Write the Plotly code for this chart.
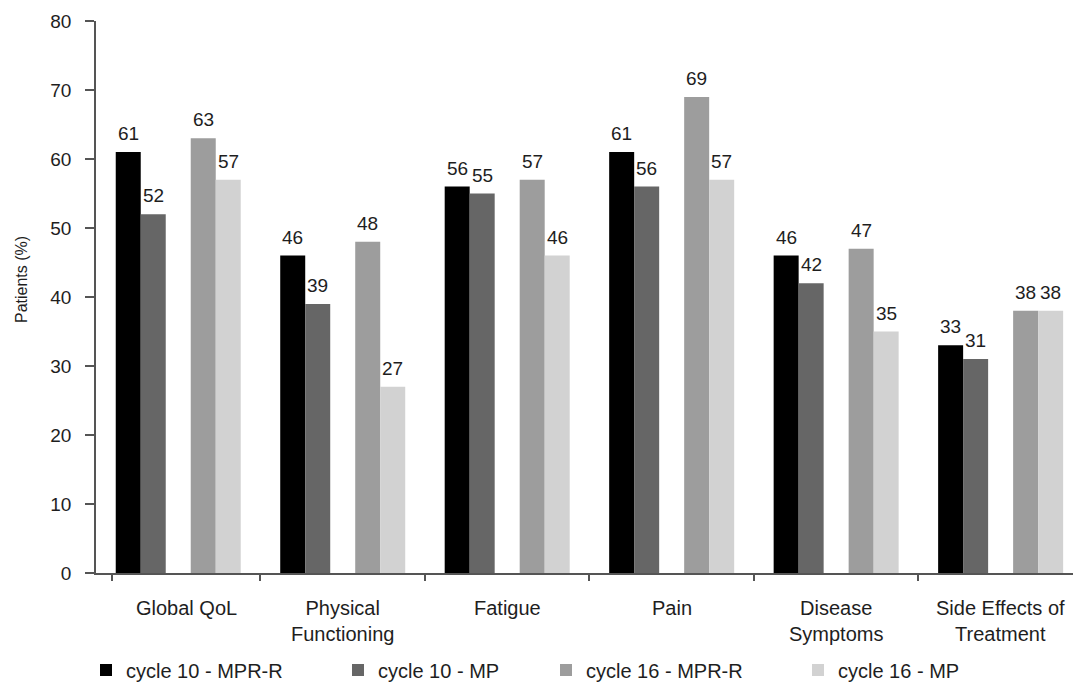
import plotly.graph_objects as go

# Quality-of-life domains and the share of patients per treatment arm / cycle
categories = ["Global QoL", "Physical<br>Functioning", "Fatigue", "Pain",
              "Disease<br>Symptoms", "Side Effects of<br>Treatment"]
series_names = ["cycle 10 - MPR-R", "cycle 10 - MP", "cycle 16 - MPR-R", "cycle 16 - MP"]
cycle10_mprr = [61, 46, 56, 61, 46, 33]
cycle10_mp = [52, 39, 55, 56, 42, 31]
cycle16_mprr = [63, 48, 57, 69, 47, 38]
cycle16_mp = [57, 27, 46, 57, 35, 38]
y_ticks = [0, 10, 20, 30, 40, 50, 60, 70, 80]

series_values = [cycle10_mprr, cycle10_mp, cycle16_mprr, cycle16_mp]
colors = ["#000000", "#666666", "#9d9d9d", "#d2d2d2"]

FONT = "Liberation Sans, Arial, Helvetica, sans-serif"
TEXT = "#1e1e1e"
AXIS = "#555555"

W, H = 1073, 682
ML, MR, MT, MB = 96, 0, 21, 109
PW, PH = W - ML - MR, H - MT - MB

# Each group has five slots; the middle slot stays empty between cycles
bw = 0.152
slot_offsets = [-2.5 * bw, -1.5 * bw, 0.5 * bw, 1.5 * bw]

xs = list(range(len(categories)))

fig = go.Figure()
legend_ids = ["legend", "legend2", "legend3", "legend4"]
for k, (name, vals, col) in enumerate(zip(series_names, series_values, colors)):
    fig.add_trace(go.Bar(
        x=xs, y=vals, name=name,
        width=bw, offset=slot_offsets[k],
        marker=dict(color=col, line=dict(width=0)),
        legend=legend_ids[k],
        showlegend=True,
    ))

annotations = []
# value labels above the bars
for k, vals in enumerate(series_values):
    for i, v in enumerate(vals):
        annotations.append(dict(
            x=i + slot_offsets[k] + bw / 2, y=v, xref="x", yref="y",
            text=str(v), showarrow=False, yanchor="bottom", xanchor="center",
            yshift=6, font=dict(family=FONT, size=19, color=TEXT),
        ))

# category labels under the axis
label_x = [0.05, 1, 2, 3, 4, 5]
for lx, cat in zip(label_x, categories):
    annotations.append(dict(
        x=lx, y=-0.039, xref="x", yref="paper", text=cat, showarrow=False,
        xanchor="center", yanchor="top", align="center",
        font=dict(family=FONT, size=20, color=TEXT),
    ))

# y-axis title
annotations.append(dict(
    x=(21 - ML) / PW, y=(MT + PH - 280) / PH, xref="paper", yref="paper",
    text="Patients (%)", textangle=-90, showarrow=False,
    xanchor="center", yanchor="middle",
    font=dict(family=FONT, size=16, color=TEXT),
))

# one legend per series so each entry sits at its own horizontal position
legend_px = [100, 352, 560, 812]
legend_layout = {}
for lid, px in zip(legend_ids, legend_px):
    legend_layout[lid] = dict(
        xref="container", yref="container",
        x=(px - 14) / W, y=(H - 670) / H, xanchor="left", yanchor="middle",
        orientation="h", bgcolor="rgba(0,0,0,0)", borderwidth=0,
        font=dict(family=FONT, size=20, color=TEXT),
        itemclick=False, itemdoubleclick=False,
    )

fig.update_layout(
    width=W, height=H,
    margin=dict(l=ML, r=MR, t=MT, b=MB, pad=0),
    paper_bgcolor="white", plot_bgcolor="white",
    barmode="overlay",
    font=dict(family=FONT, size=18, color=TEXT),
    annotations=annotations,
    xaxis=dict(
        type="linear", range=[-0.5, 5.44],
        showgrid=False, zeroline=False,
        showline=True, linecolor=AXIS, linewidth=1.5,
        tickmode="array", tickvals=[-0.4, 0.5, 1.5, 2.5, 3.5, 4.5],
        ticktext=[""] * 6, ticks="outside", ticklen=6, tickcolor=AXIS, tickwidth=1.5,
    ),
    yaxis=dict(
        range=[0, 80], tickmode="array", tickvals=y_ticks,
        showgrid=False, zeroline=False,
        showline=True, linecolor=AXIS, linewidth=1.5,
        ticks="outside", ticklen=9, tickcolor=AXIS, tickwidth=1.5,
        ticklabelstandoff=10,
        tickfont=dict(family=FONT, size=19, color=TEXT),
    ),
    showlegend=True,
    **legend_layout,
)

fig.write_html("out.html")
